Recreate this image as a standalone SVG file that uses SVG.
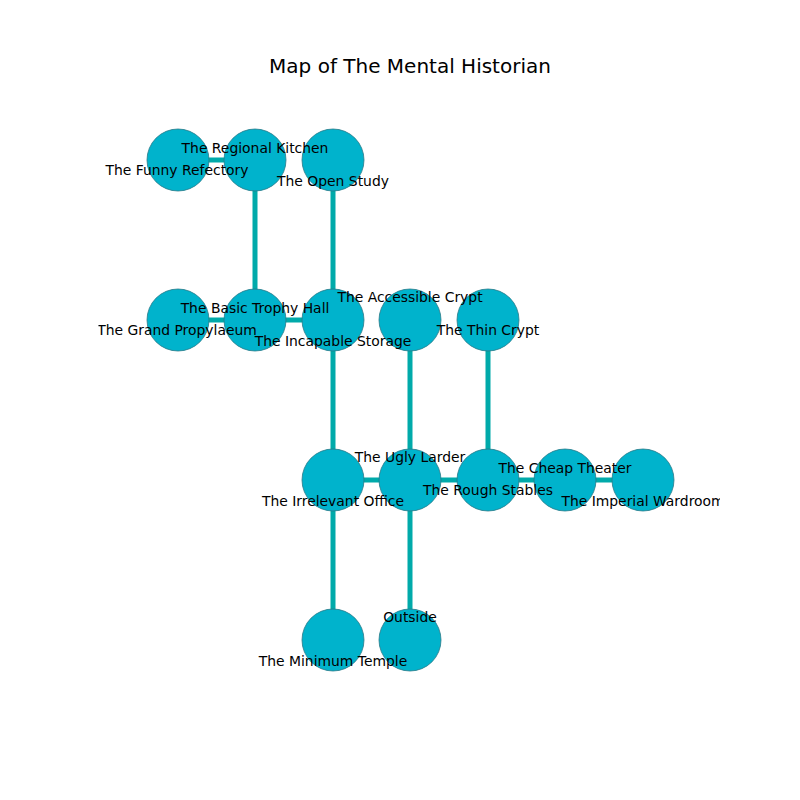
<svg xmlns="http://www.w3.org/2000/svg" width="800" height="800" viewBox="0 0 800 800">
<style>
.e{stroke:#00aaaa;stroke-width:5;fill:none}
.n{fill:#00b3cc;stroke:#2a7a88;stroke-width:0.8}
.l{font-family:"DejaVu Sans",sans-serif;font-size:13.9px;fill:#000;text-anchor:middle}
.t{font-family:"DejaVu Sans",sans-serif;font-size:20px;fill:#000;text-anchor:middle}
</style>
<defs><clipPath id="ax"><rect x="98.5" y="96" width="621.5" height="616"/></clipPath></defs>
<rect width="800" height="800" fill="#fff"/>
<text class="t" x="410" y="73">Map of The Mental Historian</text>
<g clip-path="url(#ax)">
<g id="connectors">
<line class="e" x1="178" y1="160" x2="255" y2="160"/>
<line class="e" x1="255" y1="160" x2="255" y2="320"/>
<line class="e" x1="333" y1="160" x2="333" y2="320"/>
<line class="e" x1="178" y1="320" x2="255" y2="320"/>
<line class="e" x1="255" y1="320" x2="333" y2="320"/>
<line class="e" x1="333" y1="320" x2="333" y2="480"/>
<line class="e" x1="410" y1="320" x2="410" y2="480"/>
<line class="e" x1="488" y1="320" x2="488" y2="480"/>
<line class="e" x1="333" y1="480" x2="410" y2="480"/>
<line class="e" x1="410" y1="480" x2="488" y2="480"/>
<line class="e" x1="488" y1="480" x2="565" y2="480"/>
<line class="e" x1="565" y1="480" x2="643" y2="480"/>
<line class="e" x1="333" y1="480" x2="333" y2="640"/>
<line class="e" x1="410" y1="480" x2="410" y2="640"/>
</g>
<g id="n-funny-refectory"><circle class="n" cx="178" cy="160" r="31"/></g>
<g id="n-regional-kitchen"><circle class="n" cx="255" cy="160" r="31"/></g>
<g id="n-open-study"><circle class="n" cx="333" cy="160" r="31"/></g>
<g id="n-grand-propylaeum"><circle class="n" cx="178" cy="320" r="31"/></g>
<g id="n-basic-trophy-hall"><circle class="n" cx="255" cy="320" r="31"/></g>
<g id="n-incapable-storage"><circle class="n" cx="333" cy="320" r="31"/></g>
<g id="n-accessible-crypt"><circle class="n" cx="410" cy="320" r="31"/></g>
<g id="n-thin-crypt"><circle class="n" cx="488" cy="320" r="31"/></g>
<g id="n-irrelevant-office"><circle class="n" cx="333" cy="480" r="31"/></g>
<g id="n-ugly-larder"><circle class="n" cx="410" cy="480" r="31"/></g>
<g id="n-rough-stables"><circle class="n" cx="488" cy="480" r="31"/></g>
<g id="n-cheap-theater"><circle class="n" cx="565" cy="480" r="31"/></g>
<g id="n-imperial-wardroom"><circle class="n" cx="643" cy="480" r="31"/></g>
<g id="n-minimum-temple"><circle class="n" cx="333" cy="640" r="31"/></g>
<g id="n-outside"><circle class="n" cx="410" cy="640" r="31"/></g>
<g id="labels">
<text class="l" x="177" y="175">The Funny Refectory</text>
<text class="l" x="255" y="153">The Regional Kitchen</text>
<text class="l" x="333" y="186">The Open Study</text>
<text class="l" x="177" y="335">The Grand Propylaeum</text>
<text class="l" x="255" y="313">The Basic Trophy Hall</text>
<text class="l" x="333" y="346">The Incapable Storage</text>
<text class="l" x="410" y="302">The Accessible Crypt</text>
<text class="l" x="488" y="335">The Thin Crypt</text>
<text class="l" x="333" y="506">The Irrelevant Office</text>
<text class="l" x="410" y="462">The Ugly Larder</text>
<text class="l" x="488" y="495">The Rough Stables</text>
<text class="l" x="565" y="473">The Cheap Theater</text>
<text class="l" x="643" y="506">The Imperial Wardroom</text>
<text class="l" x="333" y="666">The Minimum Temple</text>
<text class="l" x="410" y="622">Outside</text>
</g>
</g>
</svg>
